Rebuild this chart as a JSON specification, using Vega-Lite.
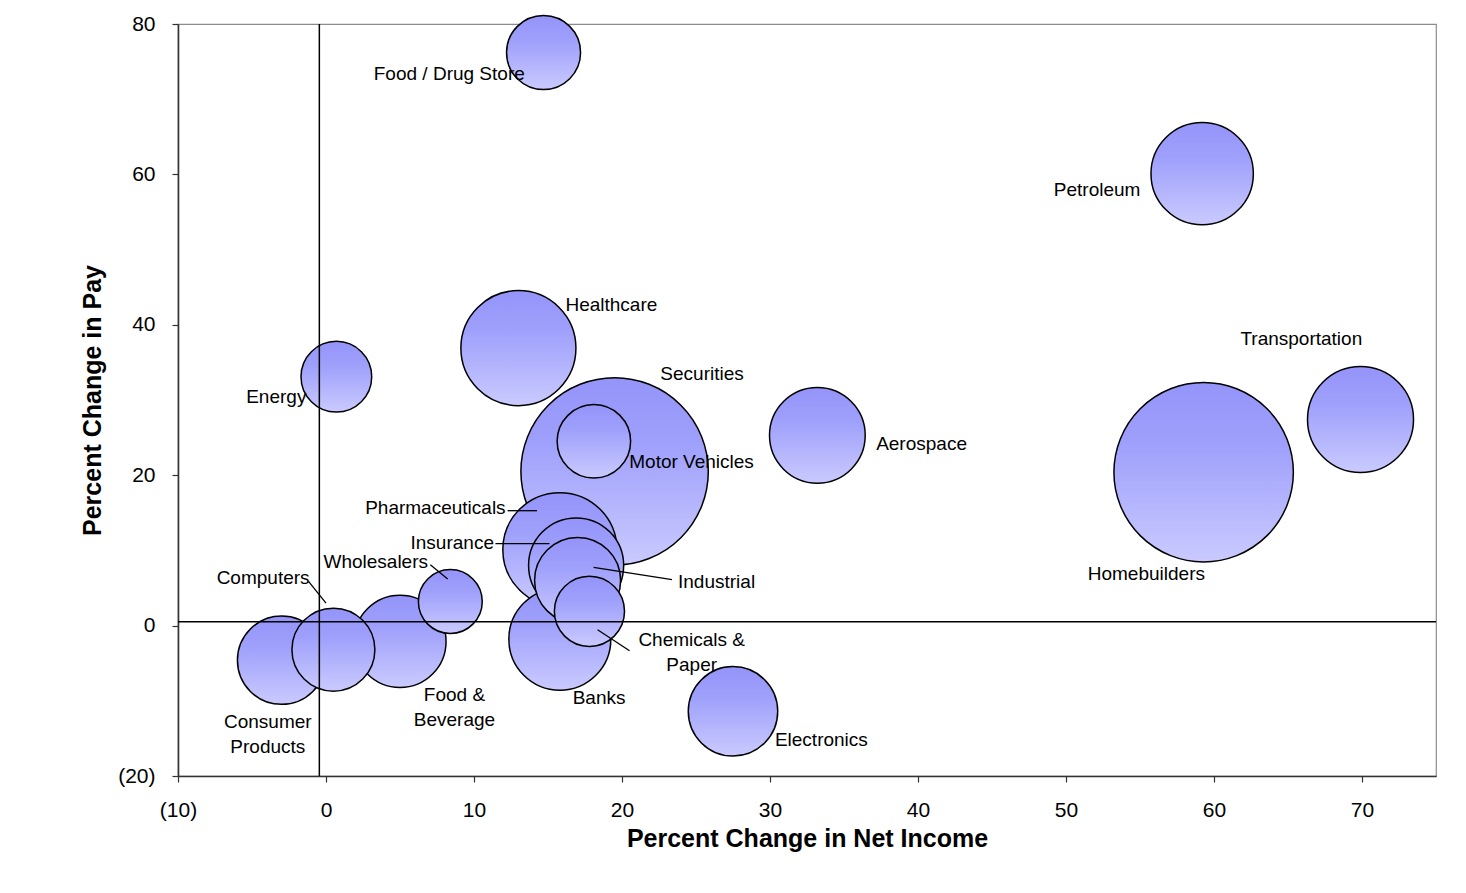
{
  "$schema": "https://vega.github.io/schema/vega-lite/v6.json",
  "autosize": {"type": "none"},
  "width": 1258,
  "height": 752,
  "padding": {"left": 178, "top": 24, "right": 30, "bottom": 117},
  "background": "white",
  "datasets": {
    "bubbles": [
      {"industry": "Securities", "netIncome": 19.5, "pay": 20.5, "weight": 87.8},
      {"industry": "Homebuilders", "netIncome": 59.3, "pay": 20.4, "weight": 80.5},
      {"industry": "Healthcare", "netIncome": 13.0, "pay": 36.9, "weight": 33.1},
      {"industry": "Pharmaceuticals", "netIncome": 15.8, "pay": 10.1, "weight": 32.5},
      {"industry": "Transportation", "netIncome": 69.9, "pay": 27.4, "weight": 28.1},
      {"industry": "Petroleum", "netIncome": 59.2, "pay": 60.1, "weight": 26.2},
      {"industry": "Banks", "netIncome": 15.8, "pay": -1.8, "weight": 26.0},
      {"industry": "Aerospace", "netIncome": 33.2, "pay": 25.3, "weight": 22.9},
      {"industry": "Insurance", "netIncome": 16.9, "pay": 8.0, "weight": 22.6},
      {"industry": "Food & Beverage", "netIncome": 5.0, "pay": -2.1, "weight": 21.2},
      {"industry": "Electronics", "netIncome": 27.5, "pay": -11.4, "weight": 20.0},
      {"industry": "Consumer Products", "netIncome": -3.0, "pay": -4.6, "weight": 19.5},
      {"industry": "Industrial", "netIncome": 17.0, "pay": 6.0, "weight": 18.5},
      {"industry": "Computers", "netIncome": 0.5, "pay": -3.2, "weight": 17.2},
      {"industry": "Food / Drug Store", "netIncome": 14.7, "pay": 76.2, "weight": 13.7},
      {"industry": "Motor Vehicles", "netIncome": 18.1, "pay": 24.5, "weight": 13.5},
      {"industry": "Energy", "netIncome": 0.7, "pay": 33.1, "weight": 12.5},
      {"industry": "Chemicals & Paper", "netIncome": 17.8, "pay": 1.9, "weight": 12.3},
      {"industry": "Wholesalers", "netIncome": 8.4, "pay": 3.2, "weight": 10.2}
    ],
    "labels": [
      {"text": "Food / Drug Store", "lx": 8.33, "ly": 73.3},
      {"text": "Petroleum", "lx": 52.1, "ly": 57.9},
      {"text": "Transportation", "lx": 65.9, "ly": 38.15},
      {"text": "Healthcare", "lx": 19.28, "ly": 42.67},
      {"text": "Energy", "lx": -3.36, "ly": 30.4},
      {"text": "Securities", "lx": 25.41, "ly": 33.5},
      {"text": "Motor Vehicles", "lx": 24.7, "ly": 21.77},
      {"text": "Aerospace", "lx": 40.24, "ly": 24.15},
      {"text": "Industrial", "lx": 26.39, "ly": 5.74},
      {"text": "Chemicals &\nPaper", "lx": 24.71, "ly": -1.98},
      {"text": "Banks", "lx": 18.45, "ly": -9.63},
      {"text": "Food &\nBeverage", "lx": 8.68, "ly": -9.23},
      {"text": "Consumer\nProducts", "lx": -3.93, "ly": -12.82},
      {"text": "Electronics", "lx": 33.47, "ly": -15.17},
      {"text": "Homebuilders", "lx": 55.43, "ly": 6.9},
      {"text": "Pharmaceuticals", "lx": 7.39, "ly": 15.64},
      {"text": "Insurance", "lx": 8.53, "ly": 10.98},
      {"text": "Wholesalers", "lx": 3.36, "ly": 8.43},
      {"text": "Computers", "lx": -4.25, "ly": 6.33}
    ],
    "leaders": [
      {"label": "Pharmaceuticals", "ax": 12.27, "ay": 15.28, "bx": 14.26, "by": 15.28},
      {"label": "Insurance", "ax": 11.45, "ay": 10.89, "bx": 15.1, "by": 10.89},
      {"label": "Wholesalers", "ax": 7.05, "ay": 8.1, "bx": 8.22, "by": 6.2},
      {"label": "Computers", "ax": -1.18, "ay": 5.88, "bx": 0.0, "by": 3.0},
      {"label": "Industrial", "ax": 18.08, "ay": 7.74, "bx": 23.38, "by": 6.1},
      {"label": "Chemicals & Paper", "ax": 18.35, "ay": -0.55, "bx": 20.51, "by": -3.34}
    ],
    "vline": [{"xline": -0.45}],
    "hline": [{"yline": 0.5}]
  },
  "layer": [
    {
      "data": {"name": "bubbles"},
      "mark": {
        "type": "circle",
        "opacity": 1,
        "fillOpacity": 1,
        "stroke": "black",
        "strokeWidth": 1.5,
        "fill": {
          "gradient": "linear",
          "x1": 0, "y1": 0, "x2": 0, "y2": 1,
          "stops": [
            {"offset": 0, "color": "#9494fa"},
            {"offset": 0.35, "color": "#9fa0fb"},
            {"offset": 1, "color": "#cacaff"}
          ]
        }
      },
      "encoding": {
        "x": {
          "field": "netIncome", "type": "quantitative",
          "title": "Percent Change in Net Income",
          "scale": {"domain": [-10, 75], "nice": false, "zero": false},
          "axis": {"values": [-10, 0, 10, 20, 30, 40, 50, 60, 70], "format": "(d", "labelPadding": 17, "titlePadding": 6, "labelFlush": false, "labelOverlap": false}
        },
        "y": {
          "field": "pay", "type": "quantitative",
          "title": "Percent Change in Pay",
          "scale": {"domain": [-20, 80], "nice": false, "zero": false},
          "axis": {"values": [-20, 0, 20, 40, 60, 80], "format": "(d", "labelPadding": 17, "titlePadding": 12, "labelFlush": false, "labelOverlap": false}
        },
        "size": {
          "field": "weight", "type": "quantitative",
          "scale": {"domain": [0, 100], "range": [0, 40000], "zero": true},
          "legend": null
        },
        "order": {"field": "weight", "sort": "descending"}
      }
    },
    {
      "data": {"name": "vline"},
      "mark": {"type": "rule", "color": "black", "strokeWidth": 1.5},
      "encoding": {"x": {"field": "xline", "type": "quantitative", "title": "Percent Change in Net Income"}}
    },
    {
      "data": {"name": "hline"},
      "mark": {"type": "rule", "color": "black", "strokeWidth": 1.5},
      "encoding": {"y": {"field": "yline", "type": "quantitative", "title": "Percent Change in Pay"}}
    },
    {
      "data": {"name": "leaders"},
      "mark": {"type": "rule", "color": "black", "strokeWidth": 1.3},
      "encoding": {
        "x": {"field": "ax", "type": "quantitative", "title": "Percent Change in Net Income"},
        "y": {"field": "ay", "type": "quantitative", "title": "Percent Change in Pay"},
        "x2": {"field": "bx"},
        "y2": {"field": "by"}
      }
    },
    {
      "data": {"name": "labels"},
      "mark": {"type": "text", "font": "Liberation Sans", "fontSize": 19, "color": "black", "align": "center", "baseline": "middle", "lineBreak": "\n", "lineHeight": 25},
      "encoding": {
        "x": {"field": "lx", "type": "quantitative", "title": "Percent Change in Net Income"},
        "y": {"field": "ly", "type": "quantitative", "title": "Percent Change in Pay"},
        "text": {"field": "text", "type": "nominal"}
      }
    }
  ],
  "config": {
    "view": {"stroke": "#8c8c8c", "strokeWidth": 1.2},
    "axis": {
      "grid": false,
      "domainColor": "#333333",
      "domainWidth": 1.6,
      "tickColor": "#333333",
      "tickWidth": 1.2,
      "tickSize": 6,
      "labelFont": "Liberation Sans",
      "labelFontSize": 21,
      "labelColor": "black",
      "titleFont": "Liberation Sans",
      "titleFontSize": 25,
      "titleFontWeight": "bold",
      "titleColor": "black"
    }
  }
}
